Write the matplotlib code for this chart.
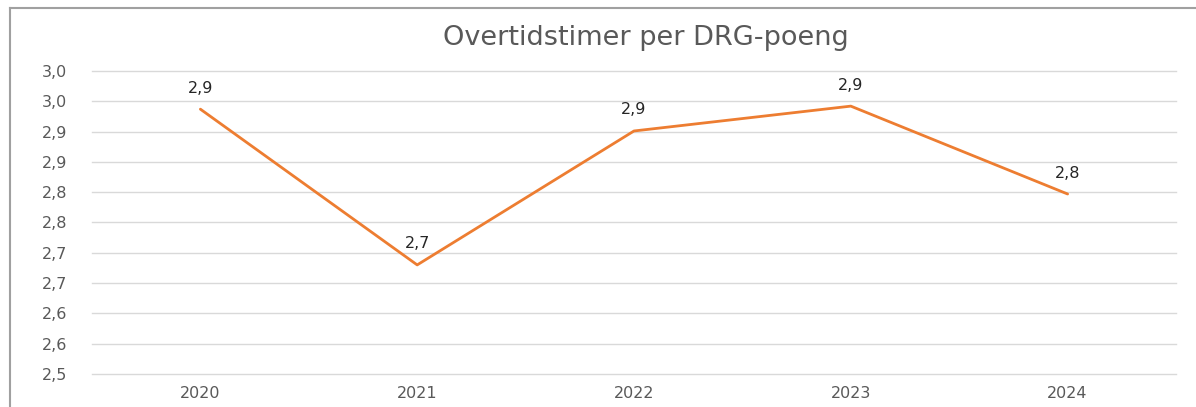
import matplotlib.pyplot as plt
from matplotlib.lines import Line2D

aar = ['2020', '2021', '2022', '2023', '2024']
overtid_per_drg = [2.937, 2.680, 2.901, 2.942, 2.797]
y_ticks = [2.50, 2.55, 2.60, 2.65, 2.70, 2.75, 2.80, 2.85, 2.90, 2.95, 3.00]

plt.rcParams['font.family'] = ['DejaVu Sans']


def komma(v):
    # én desimal, avrundet halvt opp, med komma som skilletegn
    return f"{v + 1e-9:.1f}".replace('.', ',')


fig = plt.figure(figsize=(11.96, 4.07), dpi=100)
ax = fig.add_axes([0.0769, 0.0811, 0.9064, 0.7445])

x = range(len(aar))
ax.plot(x, overtid_per_drg, color='#ED7D31', linewidth=2.0, solid_capstyle='round')
for xi, v in zip(x, overtid_per_drg):
    ax.annotate(komma(v), (xi, v), xytext=(0, 21), textcoords='offset pixels',
                ha='center', va='center', fontsize=11.5, color='#262626')

ax.set_xlim(-0.5, len(aar) - 0.5)
ax.set_ylim(2.5, 3.0)
ax.set_xticks(list(x))
ax.set_xticklabels(aar)
ax.set_yticks(y_ticks)
ax.set_yticklabels([komma(v) for v in y_ticks])
ax.tick_params(length=0, labelsize=11.5, labelcolor='#595959')
ax.tick_params(axis='y', pad=18)
ax.tick_params(axis='x', pad=9)
ax.grid(axis='y', color='#D9D9D9', linewidth=1)
for gl in ax.get_ygridlines():
    gl.set_clip_on(False)
ax.set_axisbelow(True)
for s in ax.spines.values():
    s.set_visible(False)

fig.text(0.54, 0.907, 'Overtidstimer per DRG-poeng', ha='center', va='center',
         fontsize=19.5, color='#595959')

# rammen rundt diagrammet
fig.add_artist(Line2D([10 / 1196, 10 / 1196], [0, 1 - 8 / 407], transform=fig.transFigure,
                      color='#A0A0A0', linewidth=1.5))
fig.add_artist(Line2D([10 / 1196, 1], [1 - 8 / 407, 1 - 8 / 407], transform=fig.transFigure,
                      color='#A0A0A0', linewidth=1.5))

fig.savefig('out.png', dpi=100)
